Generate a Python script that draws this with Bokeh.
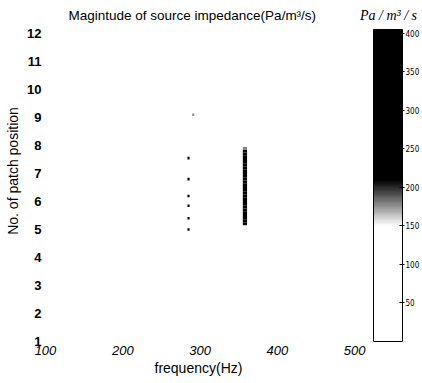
from bokeh.plotting import figure
from bokeh.models import ColorBar, LinearColorMapper, FixedTicker, Label, ColumnDataSource, Range1d, Title
from bokeh.embed import file_html
from bokeh.resources import INLINE

# ---- data ----
freq_ticks = [100, 200, 300, 400, 500]
pos_ticks = list(range(1, 13))
cbar_ticks = [50, 100, 150, 200, 250, 300, 350, 400]

# streak near 358 Hz
streak_freq = [358] * 28
streak_pos = [5.2, 5.3, 5.4, 5.5, 5.6, 5.7, 5.8, 5.9, 6.0, 6.1, 6.2, 6.3, 6.4, 6.5,
              6.6, 6.7, 6.8, 6.9, 7.0, 7.1, 7.2, 7.3, 7.4, 7.5, 7.6, 7.7, 7.8, 7.9]
streak_mag = [230, 260, 210, 300, 240, 320, 280, 350, 330, 380, 340, 390, 360, 400,
              370, 390, 350, 380, 400, 360, 390, 340, 370, 320, 350, 300, 260, 180]

# isolated points near 285 Hz
dot_freq = [285, 285, 285, 285, 285, 285, 291]
dot_pos = [5.0, 5.4, 5.85, 6.2, 6.8, 7.55, 9.1]
dot_mag = [400, 260, 330, 380, 220, 400, 175]

# ---- palette (white -> black, steep) ----
cmax = 405
palette = []
for i in range(256):
    v = i / 255 * cmax
    if v < 150:
        g = 255
    elif v < 210:
        g = int(255 * (1 - (v - 150) / 60))
    else:
        g = 0
    palette.append("#%02x%02x%02x" % (g, g, g))

mapper = LinearColorMapper(palette=palette, low=0, high=cmax)

p = figure(width=422, height=383, x_range=Range1d(100, 587.7), y_range=Range1d(1, 13.18),
           output_backend="svg", toolbar_location=None,
           min_border_left=45, min_border_right=0, min_border_top=0, min_border_bottom=42)
p.outline_line_color = None
p.grid.visible = False

src_s = ColumnDataSource(dict(f=streak_freq, y=streak_pos, m=streak_mag))
src_d = ColumnDataSource(dict(f=dot_freq, y=dot_pos, m=dot_mag))
p.rect(x="f", y="y", width=5.5, height=0.1, source=src_s,
       fill_color={"field": "m", "transform": mapper}, line_color=None)
p.rect(x="f", y="y", width=2.8, height=0.09, source=src_d,
       fill_color={"field": "m", "transform": mapper}, line_color=None)

for ax in (p.xaxis[0], p.yaxis[0]):
    ax.axis_line_color = None
    ax.major_tick_line_color = None
    ax.minor_tick_line_color = None
    ax.major_tick_out = 0
    ax.major_tick_in = 0
    ax.minor_tick_out = 0
    ax.minor_tick_in = 0
    ax.major_label_text_font = "Liberation Sans"
    ax.major_label_text_font_size = "13px"
    ax.major_label_text_color = "black"
    ax.axis_label_text_font = "Liberation Sans"
    ax.axis_label_text_font_size = "14px"
    ax.axis_label_text_font_style = "normal"
    ax.axis_label_text_color = "black"

p.xaxis.ticker = FixedTicker(ticks=freq_ticks)
p.yaxis.ticker = FixedTicker(ticks=pos_ticks)
p.xaxis.major_label_text_font_style = "italic"
p.yaxis.major_label_text_font_style = "bold"
p.yaxis.axis_label = "No. of patch position"
p.xaxis.major_label_standoff = 4
p.yaxis.major_label_standoff = 4
p.yaxis.axis_label_standoff = 3

xtitle = Title(text="frequency(Hz)", align="left", offset=109, standoff=0,
               text_font="Liberation Sans", text_font_size="14px",
               text_font_style="normal", text_color="black")
p.add_layout(xtitle, "below")

cb = ColorBar(color_mapper=mapper, ticker=FixedTicker(ticks=cbar_ticks),
              location=(328, 0), width=29, height=312, margin=0, padding=0, label_standoff=1,
              major_label_text_font="Liberation Sans Narrow, DejaVu Sans Condensed",
              major_label_text_font_size="8px", major_label_text_color="black",
              major_tick_in=3, major_tick_out=2, major_tick_line_color="black",
              bar_line_color="black", border_line_color=None,
              background_fill_color=None)
p.add_layout(cb)

title_lab = Label(x=23, y=326, x_units="screen", y_units="screen",
                  text="Magintude of source impedance(Pa/m\u00b3/s)",
                  text_font="Liberation Sans", text_font_size="13.5px",
                  text_align="left", text_baseline="middle", text_color="black")
unit_lab = Label(x=343, y=326, x_units="screen", y_units="screen", text="Pa / m\u00b3 / s",
                 text_font="Liberation Serif", text_font_style="italic", text_font_size="14px",
                 text_align="center", text_baseline="middle", text_color="black")
for l in (title_lab, unit_lab):
    p.add_layout(l)

open("out.html", "w").write(file_html(p, INLINE))
